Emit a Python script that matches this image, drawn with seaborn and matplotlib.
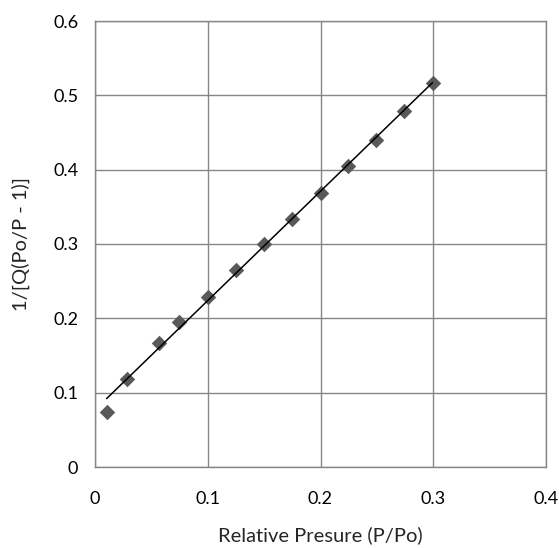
import numpy as np
import pandas as pd
import matplotlib
matplotlib.use("Agg")
import matplotlib.pyplot as plt
import seaborn as sns

# values
rel_pressure = [0.0103, 0.028, 0.0564, 0.0745, 0.100, 0.125, 0.150,
                0.175, 0.200, 0.2243, 0.2493, 0.2737, 0.2994]
inv_q = [0.0744, 0.118, 0.167, 0.195, 0.229, 0.265, 0.300,
         0.333, 0.368, 0.4055, 0.440, 0.479, 0.5164]

x_ticks = [0, 0.1, 0.2, 0.3, 0.4]
x_tick_labels = ["0", "0.1", "0.2", "0.3", "0.4"]
y_ticks = [0, 0.1, 0.2, 0.3, 0.4, 0.5, 0.6]
y_tick_labels = ["0", "0.1", "0.2", "0.3", "0.4", "0.5", "0.6"]

df = pd.DataFrame({"P/Po": rel_pressure, "y": inv_q})

sns.set_style("white")
plt.rcParams["font.family"] = ["Lato", "DejaVu Sans"]

grey = "#868686"

fig = plt.figure(figsize=(5.59, 5.48), dpi=100)
ax = fig.add_axes([95 / 559, 81 / 548, 451 / 559, 446 / 548])

sns.regplot(data=df, x="P/Po", y="y", ax=ax, ci=None, truncate=True,
            marker="D",
            scatter_kws={"s": 62, "color": "#595959", "linewidths": 0,
                         "alpha": 1, "zorder": 3},
            line_kws={"color": "black", "linewidth": 1.1, "zorder": 4})

ax.set_xlim(0, 0.4)
ax.set_ylim(0, 0.6)
ax.set_xticks(x_ticks)
ax.set_xticklabels(x_tick_labels)
ax.set_yticks(y_ticks)
ax.set_yticklabels(y_tick_labels)

ax.grid(True, color=grey, linewidth=1.0, zorder=0)
ax.set_axisbelow(True)
for sp in ax.spines.values():
    sp.set_color(grey)
    sp.set_linewidth(1.0)

ax.tick_params(axis="both", direction="out", length=6, width=1.0,
               color=grey, labelsize=13, labelcolor="black", pad=6)
ax.tick_params(axis="x", pad=11)

ax.set_xlabel("Relative Presure (P/Po)", fontsize=14.5, labelpad=14)
ax.set_ylabel("1/[Q(Po/P - 1)]", fontsize=14.5, labelpad=17)

fig.savefig("out.png", dpi=100)
